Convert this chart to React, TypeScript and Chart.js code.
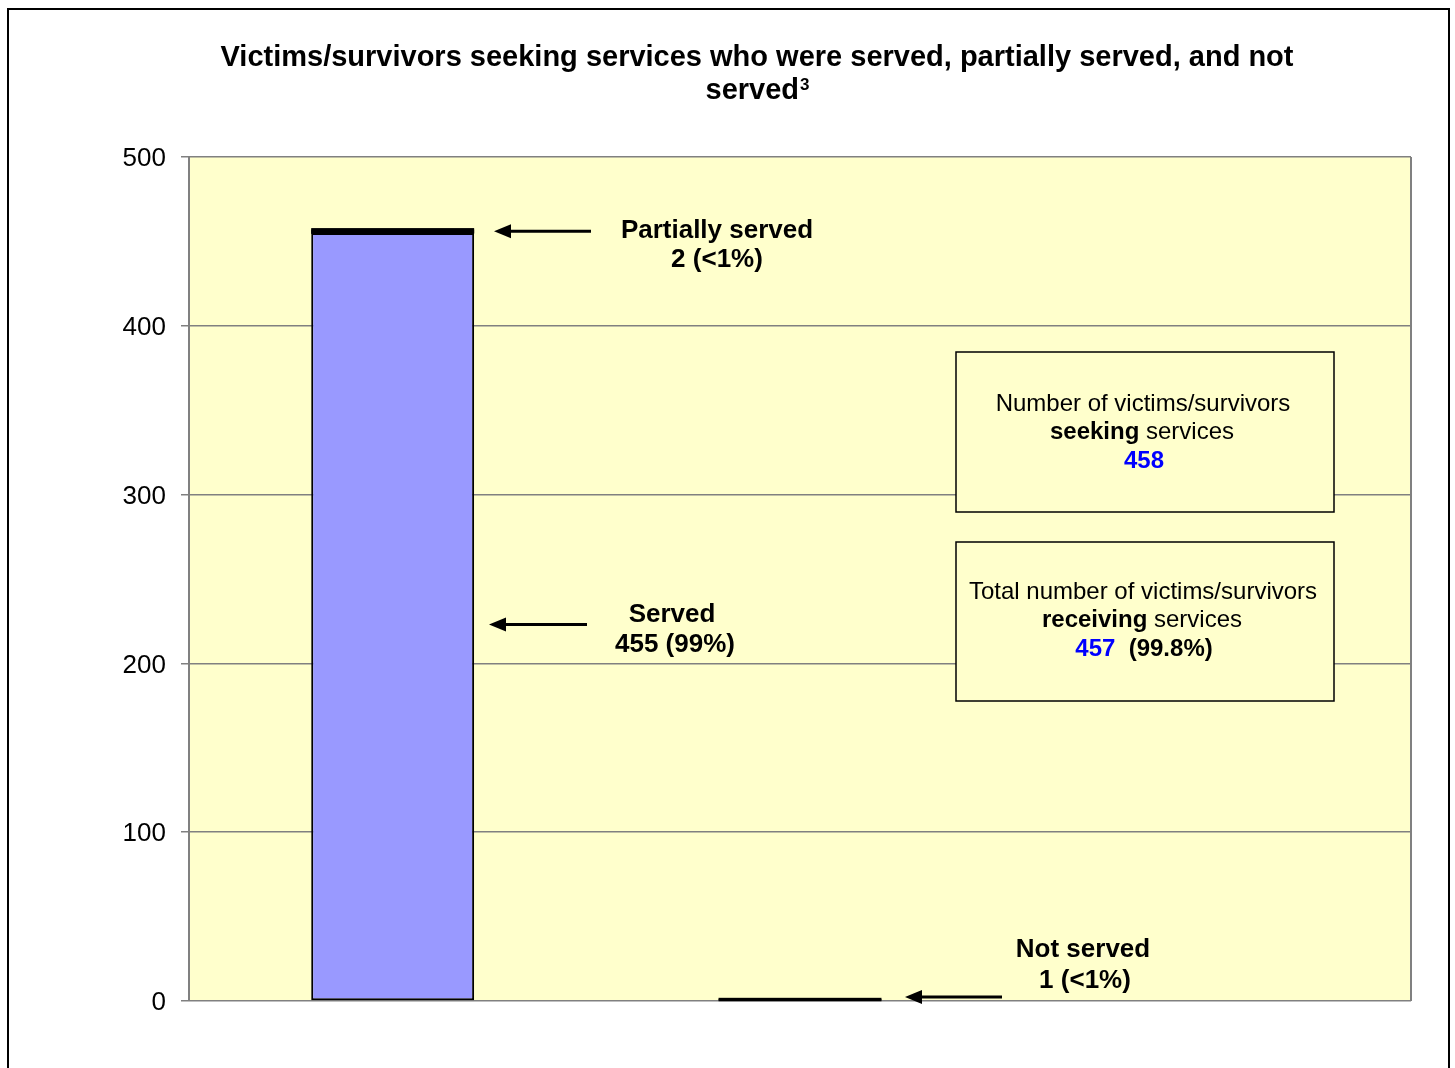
import React, { useEffect, useRef } from "react";
import { Chart, registerables } from "chart.js";

Chart.register(...registerables);

const categories = ["Seeking services", "Not served", ""];
const servedValues = [455, 0, 0];
const partiallyServedValues = [2, 0, 0];
const notServedValues = [0, 1, 0];
const yTickValues = [0, 100, 200, 300, 400, 500];

const titleLine1 = "Victims/survivors seeking services who were served, partially served, and not";
const titleLine2 = "served";
const titleSup = "3";

const FONT = "'Liberation Sans', Arial, sans-serif";

type Seg = { t: string; bold?: boolean; color?: string };

function drawSegs(ctx: CanvasRenderingContext2D, segs: Seg[], cx: number, y: number, size: number) {
  let total = 0;
  const widths: number[] = [];
  for (const s of segs) {
    ctx.font = `${s.bold ? "bold " : ""}${size}px ${FONT}`;
    const w = ctx.measureText(s.t).width;
    widths.push(w);
    total += w;
  }
  let x = cx - total / 2;
  ctx.textAlign = "left";
  ctx.textBaseline = "middle";
  segs.forEach((s, i) => {
    ctx.font = `${s.bold ? "bold " : ""}${size}px ${FONT}`;
    ctx.fillStyle = s.color || "#000000";
    ctx.fillText(s.t, x, y);
    x += widths[i];
  });
}

function arrow(ctx: CanvasRenderingContext2D, xTip: number, xTail: number, y: number) {
  ctx.save();
  ctx.strokeStyle = "#000";
  ctx.fillStyle = "#000";
  ctx.lineWidth = 3;
  ctx.beginPath();
  ctx.moveTo(xTail, y);
  ctx.lineTo(xTip + 12, y);
  ctx.stroke();
  ctx.beginPath();
  ctx.moveTo(xTip, y);
  ctx.lineTo(xTip + 17, y - 7);
  ctx.lineTo(xTip + 17, y + 7);
  ctx.closePath();
  ctx.fill();
  ctx.restore();
}

const decorPlugin = {
  id: "decor",
  beforeDraw(chart: any) {
    const { ctx, chartArea } = chart;
    ctx.save();
    ctx.fillStyle = "#FFFFFF";
    ctx.fillRect(0, 0, chart.width, chart.height);
    ctx.fillStyle = "#FFFFCC";
    ctx.fillRect(chartArea.left, chartArea.top, chartArea.right - chartArea.left, chartArea.bottom - chartArea.top);
    ctx.restore();
  },
  afterDatasetsDraw(chart: any) {
    // thin black segments (partially served / not served) drawn as solid strips
    const { ctx } = chart;
    ctx.save();
    [1, 2].forEach((di) => {
      const meta = chart.getDatasetMeta(di);
      meta.data.forEach((el: any, i: number) => {
        const v = chart.data.datasets[di].data[i];
        if (!v) return;
        const half = el.width / 2;
        const top = Math.min(el.y, el.base);
        const bot = Math.max(el.y, el.base);
        ctx.fillStyle = "#000";
        ctx.fillRect(el.x - half, top - 1.5, el.width, Math.max(bot - top, 0) + 2.5);
      });
    });
    ctx.restore();
  },
  afterDraw(chart: any) {
    const { ctx, chartArea } = chart;
    const y = chart.scales.y;
    ctx.save();
    // plot area right border
    ctx.strokeStyle = "#808080";
    ctx.lineWidth = 2;
    ctx.beginPath();
    ctx.moveTo(chartArea.right, chartArea.top);
    ctx.lineTo(chartArea.right, chartArea.bottom);
    ctx.stroke();

    // outer border
    ctx.strokeStyle = "#000";
    ctx.lineWidth = 2;
    ctx.beginPath();
    ctx.moveTo(8, 1080);
    ctx.lineTo(8, 9);
    ctx.lineTo(1449, 9);
    ctx.lineTo(1449, 1080);
    ctx.stroke();

    // title
    ctx.fillStyle = "#000";
    ctx.font = `bold 29px ${FONT}`;
    ctx.textAlign = "center";
    ctx.textBaseline = "middle";
    ctx.fillText(titleLine1, 757, 58);
    const w1 = ctx.measureText(titleLine2).width;
    ctx.font = `bold 17px ${FONT}`;
    const w2 = ctx.measureText(titleSup).width;
    const sx = 757 - (w1 + w2) / 2;
    ctx.textAlign = "left";
    ctx.font = `bold 29px ${FONT}`;
    ctx.fillText(titleLine2, sx, 91);
    ctx.font = `bold 17px ${FONT}`;
    ctx.fillText(titleSup, sx + w1 + 1, 85);

    // arrows
    arrow(ctx, 494, 591, y.getPixelForValue(456));
    arrow(ctx, 489, 587, y.getPixelForValue(223));
    arrow(ctx, 905, 1002, y.getPixelForValue(2.3));

    // annotation labels
    drawSegs(ctx, [{ t: "Partially served", bold: true }], 717, 231, 26);
    drawSegs(ctx, [{ t: "2 (<1%)", bold: true }], 717, 260, 26);
    drawSegs(ctx, [{ t: "Served", bold: true }], 672, 615, 26);
    drawSegs(ctx, [{ t: "455 (99%)", bold: true }], 675, 645, 26);
    drawSegs(ctx, [{ t: "Not served", bold: true }], 1083, 950, 26);
    drawSegs(ctx, [{ t: "1 (<1%)", bold: true }], 1085, 981, 26);

    // boxes
    const boxes = [
      { x: 956, y: 352, w: 378, h: 160 },
      { x: 956, y: 542, w: 378, h: 159 },
    ];
    for (const b of boxes) {
      ctx.fillStyle = "#FFFFCC";
      ctx.fillRect(b.x, b.y, b.w, b.h);
      ctx.strokeStyle = "#000";
      ctx.lineWidth = 1.5;
      ctx.strokeRect(b.x, b.y, b.w, b.h);
    }
    drawSegs(ctx, [{ t: "Number of victims/survivors" }], 1143, 404, 24);
    drawSegs(ctx, [{ t: "seeking", bold: true }, { t: " services" }], 1142, 432, 24);
    drawSegs(ctx, [{ t: "458", bold: true, color: "#0000FF" }], 1144, 461, 24);
    drawSegs(ctx, [{ t: "Total number of victims/survivors" }], 1143, 592, 24);
    drawSegs(ctx, [{ t: "receiving", bold: true }, { t: " services" }], 1142, 620, 24);
    drawSegs(
      ctx,
      [
        { t: "457", bold: true, color: "#0000FF" },
        { t: "  (99.8%)", bold: true },
      ],
      1144,
      649,
      24
    );
    ctx.restore();
  },
};

export default function App() {
  const ref = useRef<HTMLCanvasElement>(null);
  useEffect(() => {
    if (!ref.current) return;
    const chart = new Chart(ref.current, {
      type: "bar",
      data: {
        labels: categories,
        datasets: [
          {
            label: "Served",
            data: servedValues,
            backgroundColor: "#9999FF",
            borderColor: "#000000",
            borderWidth: 2,
            borderSkipped: false,
            stack: "s",
          },
          {
            label: "Partially served",
            data: partiallyServedValues,
            backgroundColor: "#000000",
            borderColor: "#000000",
            borderWidth: 0,
            stack: "s",
          },
          {
            label: "Not served",
            data: notServedValues,
            backgroundColor: "#000000",
            borderColor: "#000000",
            borderWidth: 0,
            stack: "s",
          },
        ],
      },
      options: {
        responsive: false,
        animation: false,
        layout: { padding: { left: 0, top: 157, right: 44, bottom: 67 } },
        datasets: { bar: { barPercentage: 1, categoryPercentage: 0.4 } },
        plugins: { legend: { display: false }, title: { display: false }, tooltip: { enabled: false } },
        scales: {
          x: {
            stacked: true,
            ticks: { display: false },
            grid: { display: false, drawTicks: false },
            border: { display: false },
            afterFit: (s: any) => {
              s.height = 0;
            },
          },
          y: {
            stacked: true,
            min: 0,
            max: 500,
            afterBuildTicks: (s: any) => {
              s.ticks = yTickValues.map((v) => ({ value: v }));
            },
            afterFit: (s: any) => {
              s.width = 189;
            },
            ticks: {
              color: "#000",
              font: { family: FONT, size: 26 },
              padding: 15,
              labelOffset: 2,
            },
            grid: { color: "#808080", lineWidth: 1.5, tickLength: 8, tickColor: "#808080" },
            border: { color: "#808080", width: 2 },
          },
        },
      },
      plugins: [decorPlugin],
    });
    return () => chart.destroy();
  }, []);
  return (
    <canvas
      ref={ref}
      width={1455}
      height={1068}
      style={{ position: "absolute", left: 0, top: 0, display: "block" }}
    />
  );
}
